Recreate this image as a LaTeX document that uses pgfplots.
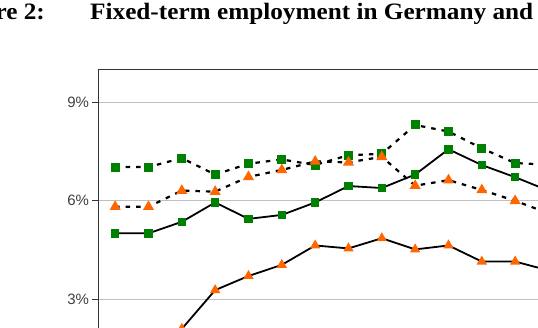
\documentclass[border=0pt]{standalone}
\usepackage{graphicx}
\usepackage{pgfplots}
\pgfplotsset{compat=1.18}
\usepackage{fontspec}
\setmainfont{Liberation Serif}
\newfontfamily\arialfont{Liberation Sans}
\definecolor{mgreen}{RGB}{0,128,0}
\definecolor{morange}{RGB}{255,102,0}
\begin{document}
\begin{tikzpicture}
\useasboundingbox (0pt,0pt) rectangle (538pt,-328pt);
\clip (0pt,0pt) rectangle (538pt,-328pt);
\node[anchor=base west, inner sep=0pt] at (90pt,-20pt) {\scalebox{1.074}[1]{\fontsize{23.5}{28}\selectfont\bfseries Fixed-term employment in Germany and}};
\node[anchor=base east, inner sep=0pt] at (45pt,-20pt) {\scalebox{1.074}[1]{\fontsize{23.5}{28}\selectfont\bfseries Figure 2:}};
\begin{axis}[
  at={(98.5pt,-397.8pt)}, anchor=south west,
  scale only axis, width=533.3pt, height=328.3pt,
  xmin=-0.5, xmax=15.5, ymin=0, ymax=10,
  xtick=\empty,
  ytick={3,6,9},
  /pgf/number format/assume math mode=true,
  yticklabel={\pgfmathprintnumber{\tick}\%},
  yticklabel style={font=\arialfont\fontsize{15}{18}\selectfont, text=black!75},
  ymajorgrids,
  major grid style={black!25, line width=1pt},
  axis line style={black!80, line width=1.5pt},
  tick style={black!80, line width=1pt},
  major tick length=6pt,
  tick align=outside,
  ytick pos=left,
]
% dotted green
\addplot[black, line width=2.2pt, dash pattern=on 4.5pt off 6pt, mark=square*, mark size=3.4pt, mark options={solid, fill=mgreen, draw=mgreen}]
 coordinates {(0,7.03)(1,7.03)(2,7.30)(3,6.80)(4,7.13)(5,7.26)(6,7.09)(7,7.39)(8,7.43)(9,8.31)(10,8.11)(11,7.60)(12,7.15)(13,7.10)};
% dotted orange
\addplot[black, line width=2.2pt, dash pattern=on 4.5pt off 6pt, mark=triangle*, mark size=4.2pt, mark options={solid, fill=morange, draw=morange}]
 coordinates {(0,5.82)(1,5.82)(2,6.31)(3,6.28)(4,6.73)(5,6.94)(6,7.20)(7,7.17)(8,7.34)(9,6.46)(10,6.63)(11,6.33)(12,6.00)(13,5.62)};
% solid green
\addplot[black, line width=1.8pt, mark=square*, mark size=3.4pt, mark options={solid, fill=mgreen, draw=mgreen}]
 coordinates {(0,5.01)(1,5.01)(2,5.36)(3,5.95)(4,5.45)(5,5.57)(6,5.95)(7,6.45)(8,6.39)(9,6.80)(10,7.57)(11,7.09)(12,6.72)(13,6.31)};
% solid orange
\addplot[black, line width=1.8pt, mark=triangle*, mark size=4.2pt, mark options={solid, fill=morange, draw=morange}]
 coordinates {(0,1.40)(1,1.60)(2,2.10)(3,3.28)(4,3.71)(5,4.05)(6,4.64)(7,4.55)(8,4.86)(9,4.52)(10,4.64)(11,4.15)(12,4.15)(13,3.88)};
\end{axis}
\end{tikzpicture}
\end{document}
